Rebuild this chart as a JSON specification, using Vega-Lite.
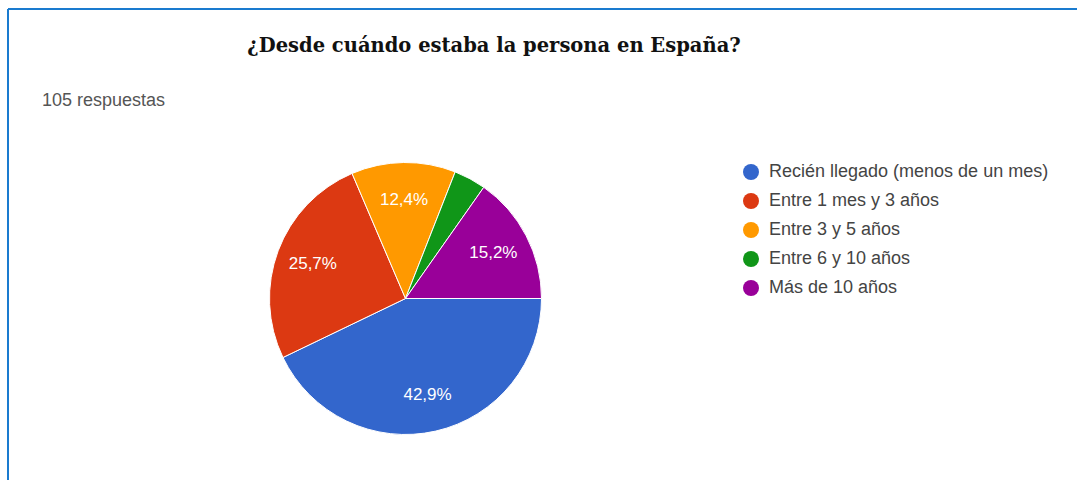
{
  "$schema": "https://vega.github.io/schema/vega-lite/v6.json",
  "padding": {"left": 7, "top": 8, "right": 0, "bottom": 0},
  "background": "white",
  "bounds": "flush",
  "spacing": 0,
  "title": {
    "text": "¿Desde cuándo estaba la persona en España?",
    "subtitle": "105 respuestas",
    "anchor": "start",
    "frame": "group",
    "offset": -103,
    "font": "DejaVu Serif",
    "fontSize": 19.5,
    "fontWeight": "bold",
    "color": "#111111",
    "subtitleFont": "Liberation Sans",
    "subtitleFontSize": 18,
    "subtitleColor": "#555555",
    "subtitlePadding": 36,
    "encode": {
      "title": {"update": {"align": {"value": "center"}, "dx": {"value": 486}}},
      "subtitle": {"update": {"align": {"value": "left"}, "dx": {"value": 34}}}
    }
  },
  "hconcat": [
    {
      "width": 795,
      "height": 579,
      "view": {"stroke": "#1a7bcf", "strokeWidth": 2, "strokeDash": [795, 1374, 579, 0]},
      "data": {
        "values": [
          {"categoria": "Recién llegado (menos de un mes)", "respuestas": 45, "etiqueta": "42,9%", "orden": 1},
          {"categoria": "Entre 1 mes y 3 años", "respuestas": 27, "etiqueta": "25,7%", "orden": 2},
          {"categoria": "Entre 3 y 5 años", "respuestas": 13, "etiqueta": "12,4%", "orden": 3},
          {"categoria": "Entre 6 y 10 años", "respuestas": 4, "etiqueta": "", "orden": 4},
          {"categoria": "Más de 10 años", "respuestas": 16, "etiqueta": "15,2%", "orden": 5}
        ]
      },
      "encoding": {
        "theta": {"field": "respuestas", "type": "quantitative", "stack": true, "scale": {"range": [1.5708, 7.854]}},
        "order": {"field": "orden", "type": "quantitative"}
      },
      "layer": [
        {
          "mark": {"type": "arc", "outerRadius": 136, "stroke": "white", "strokeWidth": 1},
          "encoding": {
            "color": {
              "field": "categoria",
              "type": "nominal",
              "sort": null,
              "scale": {
                "domain": ["Recién llegado (menos de un mes)", "Entre 1 mes y 3 años", "Entre 3 y 5 años", "Entre 6 y 10 años", "Más de 10 años"],
                "range": ["#3366cc", "#dc3912", "#ff9900", "#109618", "#990099"]
              },
              "legend": {
                "orient": "none",
                "legendX": 734,
                "legendY": 154,
                "title": null,
                "symbolType": "circle",
                "symbolSize": 256,
                "symbolStrokeWidth": 0,
                "symbolOpacity": 1,
                "labelFontSize": 18,
                "labelFont": "Liberation Sans",
                "labelColor": "#444444",
                "labelOffset": 9,
                "rowPadding": 11,
                "labelLimit": 400,
                "padding": 0
              }
            }
          }
        },
        {
          "mark": {"type": "text", "radius": 99, "fill": "white", "font": "Liberation Sans", "fontSize": 17, "align": "center", "baseline": "middle"},
          "encoding": {
            "text": {"field": "etiqueta", "type": "nominal"}
          }
        }
      ]
    },
    {
      "width": 290,
      "height": 579,
      "view": {"stroke": "#1a7bcf", "strokeWidth": 2, "strokeDash": [290, 2000]},
      "data": {"values": []},
      "mark": "text",
      "encoding": {}
    }
  ]
}
